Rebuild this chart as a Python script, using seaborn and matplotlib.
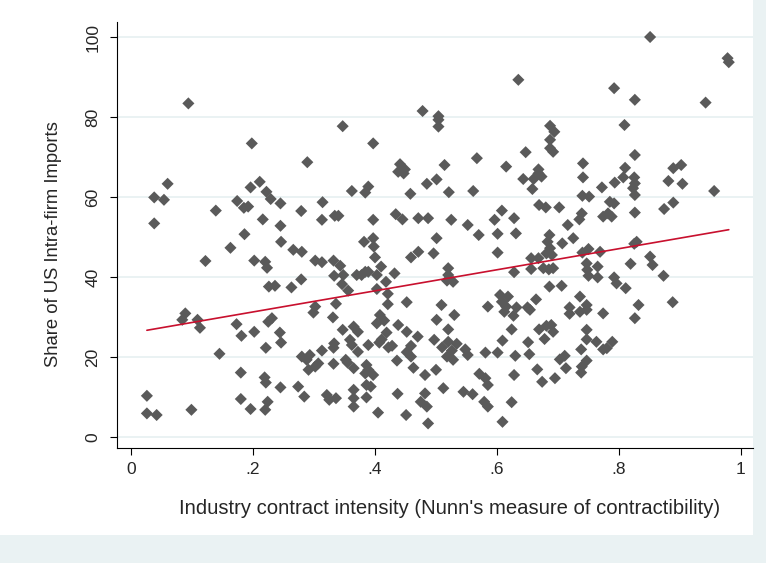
import numpy as np
import pandas as pd
import matplotlib
matplotlib.use('Agg')
import matplotlib.pyplot as plt
import seaborn as sns
from matplotlib.patches import Rectangle

# contract intensity (x) and intra-firm import share (y)
contract_intensity = [
    0.094, 0.198,
    0.478, 0.504, 0.504, 0.504, 0.347, 0.397, 0.289, 0.441, 0.449, 0.514,
    0.635, 0.687, 0.694, 0.687, 0.687, 0.692, 0.567, 0.647, 0.615, 0.668, 0.741,
    0.851, 0.978, 0.980, 0.792, 0.826, 0.942, 0.809, 0.826, 0.810, 0.889, 0.902,
    0.060, 0.038, 0.054, 0.038, 0.139, 0.122, 0.163, 0.186, 0.174, 0.185, 0.192, 0.196,
    0.211, 0.222, 0.229, 0.245, 0.216, 0.245, 0.246, 0.202, 0.220, 0.223, 0.226, 0.236,
    0.438, 0.447, 0.485, 0.501, 0.362, 0.389, 0.384, 0.458, 0.314, 0.279, 0.313, 0.334,
    0.340, 0.397, 0.434, 0.445, 0.471, 0.487, 0.501, 0.382, 0.397, 0.398, 0.266, 0.280,
    0.471, 0.459, 0.496, 0.400, 0.302, 0.313, 0.332, 0.343, 0.410, 0.384, 0.370, 0.378,
    0.389, 0.403, 0.432, 0.333, 0.348, 0.279, 0.418, 0.346, 0.263, 0.356, 0.403, 0.421,
    0.302, 0.336, 0.421, 0.452, 0.509,
    0.643, 0.660, 0.668, 0.673, 0.658, 0.741, 0.772, 0.521, 0.561, 0.740, 0.751, 0.669,
    0.680, 0.702, 0.608, 0.596, 0.628, 0.525, 0.552, 0.739, 0.735, 0.774, 0.716, 0.570,
    0.601, 0.631, 0.686, 0.725, 0.683, 0.707, 0.687, 0.601, 0.750, 0.740, 0.769, 0.681,
    0.690, 0.656, 0.668, 0.747, 0.656, 0.676, 0.685, 0.692, 0.748, 0.765, 0.520, 0.520,
    0.628, 0.750, 0.765, 0.518, 0.528, 0.686, 0.706, 0.736, 0.747, 0.605, 0.618, 0.608,
    0.664, 0.585, 0.615, 0.632, 0.650, 0.719,
    0.793, 0.807, 0.825, 0.826, 0.823, 0.826, 0.881, 0.904, 0.956, 0.785, 0.792, 0.782,
    0.788, 0.826, 0.874, 0.889, 0.829, 0.825, 0.851, 0.855, 0.819, 0.873, 0.792, 0.796,
    0.811, 0.832, 0.888,
    0.089, 0.084, 0.109, 0.113, 0.173, 0.181, 0.202, 0.225, 0.231, 0.244, 0.246, 0.221,
    0.145, 0.180, 0.219, 0.221, 0.245, 0.180, 0.224, 0.196, 0.220, 0.026, 0.026, 0.042,
    0.099,
    0.299, 0.331, 0.347, 0.365, 0.372, 0.359, 0.362, 0.389, 0.333, 0.332, 0.313, 0.280,
    0.293, 0.288, 0.307, 0.302, 0.291, 0.332, 0.352, 0.355, 0.372, 0.365, 0.386, 0.389,
    0.384, 0.397, 0.408, 0.415, 0.403, 0.419, 0.411, 0.407, 0.422, 0.428, 0.438, 0.452,
    0.470, 0.459, 0.452, 0.459, 0.436, 0.463, 0.482, 0.500, 0.497, 0.501, 0.510, 0.274,
    0.284, 0.321, 0.325, 0.336, 0.365, 0.365, 0.365, 0.386, 0.393, 0.386, 0.405, 0.437,
    0.451, 0.482, 0.475, 0.485, 0.487, 0.512,
    0.530, 0.520, 0.520, 0.534, 0.526, 0.528, 0.548, 0.552, 0.518, 0.612, 0.627, 0.624,
    0.609, 0.581, 0.601, 0.630, 0.651, 0.653, 0.654, 0.669, 0.681, 0.689, 0.692, 0.678,
    0.719, 0.736, 0.747, 0.774, 0.747, 0.747, 0.763, 0.738, 0.774, 0.703, 0.711, 0.713,
    0.747, 0.739, 0.738, 0.666, 0.674, 0.695, 0.628, 0.571, 0.581, 0.585, 0.545, 0.560,
    0.579, 0.585, 0.624, 0.609,
    0.826, 0.789, 0.780,
]
intrafirm_share = [
    83.4, 73.4,
    81.5, 80.2, 79.3, 77.6, 77.7, 73.4, 68.7, 68.2, 66.9, 68.0,
    89.3, 77.8, 76.3, 74.3, 72.2, 71.3, 69.7, 71.2, 67.6, 66.9, 68.4,
    100.0, 94.7, 93.7, 87.2, 84.3, 83.6, 78.0, 70.5, 67.3, 67.2, 68.0,
    63.3, 59.9, 59.3, 53.4, 56.6, 44.0, 47.3, 50.7, 59.0, 57.3, 57.6, 62.4,
    63.8, 61.3, 59.5, 58.4, 54.4, 52.8, 48.8, 44.1, 43.8, 42.3, 37.6, 37.8,
    66.3, 65.9, 63.3, 64.4, 61.5, 62.6, 61.1, 60.8, 58.7, 56.5, 54.3, 55.3,
    55.3, 54.3, 55.7, 54.4, 54.7, 54.7, 49.7, 48.8, 49.7, 47.6, 46.8, 46.3,
    46.3, 44.9, 45.9, 44.9, 44.1, 43.7, 44.1, 42.8, 42.6, 41.3, 40.5, 40.5,
    41.3, 40.5, 40.9, 40.3, 40.5, 39.4, 38.8, 38.2, 37.4, 36.6, 37.0, 35.8,
    32.6, 33.3, 33.2, 33.7, 33.0,
    64.5, 64.5, 65.9, 65.1, 62.0, 64.9, 62.4, 61.2, 61.5, 60.3, 60.1, 58.0,
    57.4, 57.4, 56.6, 54.3, 54.7, 54.3, 53.0, 55.9, 54.4, 55.1, 53.0, 50.5,
    50.8, 50.9, 50.5, 49.7, 48.8, 48.4, 47.2, 46.1, 47.0, 46.1, 46.3, 45.9,
    45.5, 44.7, 44.7, 43.4, 42.0, 42.2, 41.9, 42.2, 41.8, 42.6, 42.2, 40.5,
    41.2, 40.3, 39.9, 39.1, 38.8, 37.6, 37.8, 35.1, 33.0, 35.5, 35.1, 33.8,
    34.4, 32.6, 32.6, 32.4, 32.4, 32.4,
    63.6, 64.9, 64.9, 63.4, 62.2, 60.5, 64.0, 63.3, 61.5, 58.8, 58.4, 55.9,
    55.1, 56.1, 57.0, 58.6, 48.8, 48.3, 45.1, 43.0, 43.3, 40.3, 39.9, 38.4,
    37.2, 33.0, 33.7,
    30.9, 29.3, 29.3, 27.3, 28.2, 25.3, 26.3, 28.8, 29.7, 26.1, 23.6, 22.3,
    20.8, 16.1, 14.9, 13.6, 12.4, 9.5, 8.8, 7.0, 6.8, 10.3, 5.9, 5.5,
    6.8,
    31.1, 29.9, 26.8, 27.6, 26.3, 24.3, 23.0, 23.0, 23.4, 22.3, 21.6, 20.1,
    20.5, 19.3, 18.4, 17.6, 16.8, 18.3, 19.3, 18.6, 21.3, 17.2, 18.0, 16.8,
    15.9, 15.5, 30.5, 29.1, 28.4, 26.1, 24.4, 23.6, 22.4, 22.8, 28.0, 26.3,
    25.1, 22.8, 21.2, 20.1, 19.1, 17.3, 15.5, 16.8, 24.3, 29.3, 22.4, 12.6,
    10.1, 10.5, 9.3, 9.7, 11.8, 9.7, 7.6, 13.0, 12.6, 9.9, 6.1, 10.8,
    5.5, 10.9, 8.8, 7.6, 3.4, 12.2,
    30.5, 26.9, 23.8, 23.3, 21.6, 19.3, 21.9, 20.5, 20.1, 31.3, 30.3, 26.9,
    24.1, 21.1, 21.1, 20.3, 23.7, 20.7, 31.8, 26.9, 27.8, 28.0, 26.3, 24.5,
    30.8, 31.3, 31.8, 30.9, 26.8, 24.4, 23.8, 21.9, 21.9, 19.4, 20.3, 17.2,
    19.1, 17.6, 16.1, 16.9, 13.8, 14.7, 15.5, 15.8, 14.7, 13.0, 11.3, 10.7,
    8.8, 7.6, 8.7, 3.8,
    29.7, 23.8, 22.2,
]

x_ticks = [0, 0.2, 0.4, 0.6, 0.8, 1.0]
x_ticklabels = ['0', '.2', '.4', '.6', '.8', '1']
y_ticks = [0, 20, 40, 60, 80, 100]

df = pd.DataFrame({'contract': contract_intensity, 'share': intrafirm_share})

sns.set_style('white')
plt.rcParams['font.family'] = ['Liberation Sans', 'DejaVu Sans']

W, H = 766, 563
fig = plt.figure(figsize=(W / 100, H / 100), dpi=100, facecolor='#EAF2F3')
# white graph region, light border left showing at right/bottom
bg = Rectangle((0, (H - 535) / H), 753 / W, 535 / H, transform=fig.transFigure,
               facecolor='white', edgecolor='none', zorder=-10)
fig.add_artist(bg)

ax = fig.add_axes([117 / W, (H - 448) / H, (753 - 117) / W, (448 - 22) / H])
ax.set_zorder(1)
ax.set_facecolor('white')

for yt in y_ticks:
    ax.axhline(yt, color='#EAF2F3', lw=1.4, zorder=0)

sns.scatterplot(data=df, x='contract', y='share', marker='D', s=38,
                color='#5a5a5a', edgecolor='none', ax=ax, zorder=2)
sns.regplot(data=df, x='contract', y='share', scatter=False, ci=None,
            color='#C8102E', line_kws={'lw': 1.2, 'zorder': 3}, ax=ax)

ax.set_xlim(-0.023, 1.0197)
ax.set_ylim(-2.75, 103.75)
ax.set_xticks(x_ticks)
ax.set_xticklabels(x_ticklabels)
ax.set_yticks(y_ticks)
ax.set_yticklabels([str(t) for t in y_ticks], rotation=90, va='center')
ax.tick_params(axis='both', direction='out', length=5, width=0.8,
               color='black', labelsize=12.5, left=True, bottom=True)
ax.tick_params(axis='y', pad=7)
ax.tick_params(axis='x', pad=5)

for side in ['top', 'right']:
    ax.spines[side].set_visible(False)
for side in ['left', 'bottom']:
    ax.spines[side].set_color('black')
    ax.spines[side].set_linewidth(0.8)

ax.set_xlabel("Industry contract intensity (Nunn's measure of contractibility)",
              fontsize=14.6)
ax.set_ylabel('Share of US Intra-firm Imports', fontsize=13.3)
ax.xaxis.set_label_coords((450 - 117) / 636, (448 - 499) / 426)
ax.yaxis.set_label_coords((62 - 117) / 636, (448 - 244) / 426)

fig.savefig('out.png', dpi=100, facecolor=fig.get_facecolor())
